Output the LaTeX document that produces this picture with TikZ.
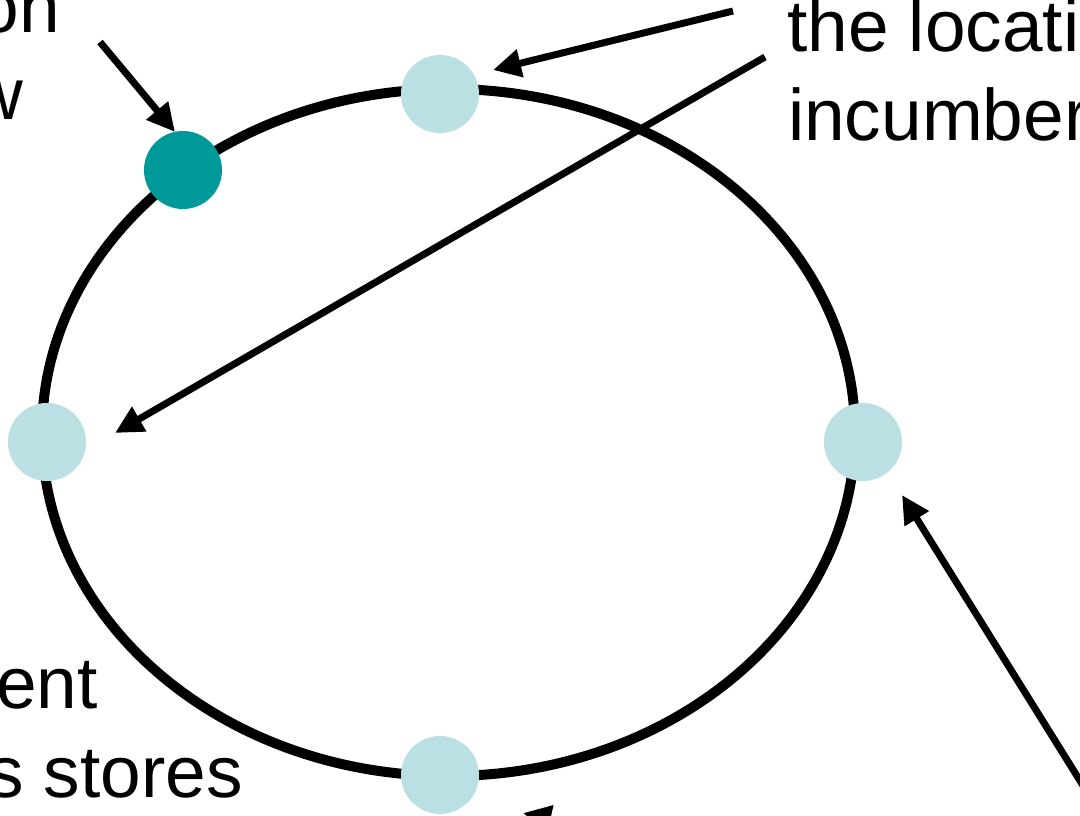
\documentclass[tikz,border=0pt]{standalone}
\usepackage{fontspec}
\setmainfont{Liberation Sans}
\usetikzlibrary{arrows.meta}
\definecolor{pale}{HTML}{BAE0E4}
\definecolor{deepteal}{HTML}{009999}
\begin{document}
\begin{tikzpicture}[x=1pt,y=-1pt,
  ring/.style={line width=10pt},
  pointer/.style={line width=7pt, -{Triangle[length=28pt,width=27pt]}},
  site/.style={circle, fill=pale, minimum size=78pt, inner sep=0pt},
  newsite/.style={site, fill=deepteal},
  caption/.style={inner sep=0pt, font=\fontsize{73}{88}\selectfont}]
\useasboundingbox (0,0) rectangle (1080,816);
\clip (0,0) rectangle (1080,816);

% the ring
\draw[ring] (448.5,432.5) ellipse [x radius=406.5, y radius=343.5];

% sites on the ring
\node[site] (top) at (440,94) {};
\node[site] (left) at (47,442) {};
\node[site] (right) at (863,442) {};
\node[site] (bottom) at (440,775) {};
\node[newsite] (fresh) at (183,170) {};

% captions
\node[caption, anchor=base east] (c1) at (60,33) {on};
\node[caption, anchor=base east] (c2) at (23,120) {w};
\node[caption, anchor=base west] (c3) at (787,52) {the locati};
\node[caption, anchor=base west] (c4) at (788,140) {incumber};
\node[caption, anchor=base east] (c5) at (98,708) {ent};
\node[caption, anchor=base east] (c6) at (243,797) {s stores};

% arrow ends
\coordinate (s1) at (100,42);   \coordinate (t1) at (175,132);
\coordinate (s2) at (733,11);   \coordinate (t2) at (493,70);
\coordinate (s3) at (765,57);   \coordinate (t3) at (115,433);
\coordinate (s4) at (1092,800); \coordinate (t4) at (902,495);
\coordinate (s5) at (640,840);  \coordinate (t5) at (523,813);

\draw[pointer] (s1) -- (t1);
\draw[pointer] (s2) -- (t2);
\draw[pointer] (s3) -- (t3);
\draw[pointer] (s4) -- (t4);
\draw[pointer] (s5) -- (t5);
\end{tikzpicture}
\end{document}
